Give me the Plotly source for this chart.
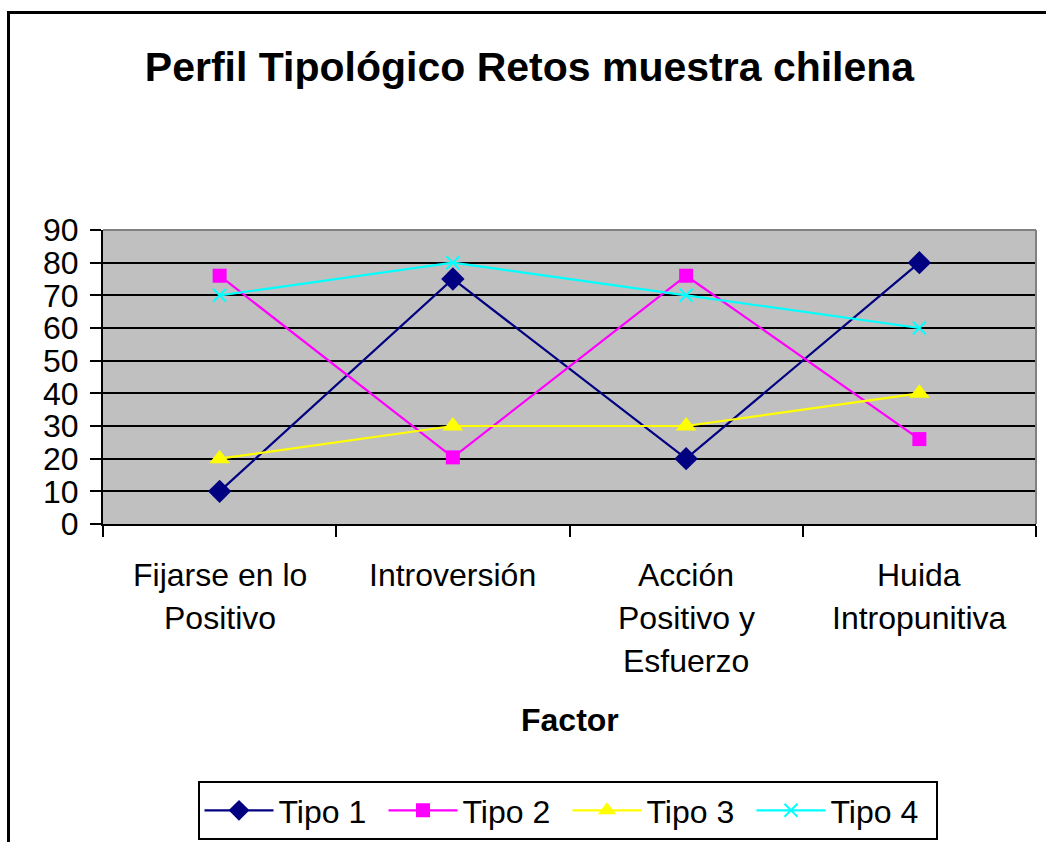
import plotly.graph_objects as go

# Category labels (factors) and the lines of text shown under each one
factores = ["Fijarse en lo Positivo", "Introversión", "Acción Positivo y Esfuerzo", "Huida Intropunitiva"]
etiquetas = [
    ["Fijarse en lo", "Positivo"],
    ["Introversión"],
    ["Acción", "Positivo y", "Esfuerzo"],
    ["Huida", "Intropunitiva"],
]

# Series values per profile type
tipo1 = [10, 75, 20, 80]
tipo2 = [76, 20.4, 76, 26]
tipo3 = [20, 30, 30, 40]
tipo4 = [70, 80, 70, 60]

y_ticks = list(range(0, 100, 10))

FONT = "Liberation Sans, Arial, sans-serif"
FS = 32
W, H = 1046, 842
ML, MR, MT, MB = 103, 10, 230, 318
PW = W - ML - MR
PH = H - MT - MB


def px_x(p):
    return (p - ML) / PW


def px_y(p):
    return (H - MB - p) / PH


series = [
    ("Tipo 1", tipo1, "#000080", dict(symbol="diamond", size=18, color="#000080")),
    ("Tipo 2", tipo2, "#FF00FF", dict(symbol="square", size=14, color="#FF00FF")),
    ("Tipo 3", tipo3, "#FFFF00", dict(symbol="triangle-up", size=18, color="#FFFF00")),
    ("Tipo 4", tipo4, "#00FFFF", dict(symbol="x-thin", size=13, color="#00FFFF",
                                       line=dict(color="#00FFFF", width=2))),
]

fig = go.Figure()
for name, vals, col, mk in series:
    fig.add_trace(go.Scatter(
        x=factores, y=vals, name=name, mode="lines+markers",
        line=dict(color=col, width=2.2), marker=mk,
    ))

annotations = []
for cat, lines in zip(factores, etiquetas):
    for i, txt in enumerate(lines):
        annotations.append(dict(
            x=cat, xref="x", y=0, yref="paper", text=txt, showarrow=False,
            yanchor="middle", xanchor="center", yshift=-51 - 43 * i,
            font=dict(family=FONT, size=FS, color="black"),
        ))
annotations.append(dict(
    x=0.5, xref="paper", y=0, yref="paper", text="<b>Factor</b>", showarrow=False,
    yanchor="middle", xanchor="center", yshift=-196,
    font=dict(family=FONT, size=FS, color="black"),
))

shapes = [
    # outer chart frame
    dict(type="rect", xref="paper", yref="paper",
         x0=px_x(8.5), x1=px_x(1060), y0=px_y(860), y1=px_y(12.5),
         line=dict(color="black", width=3), layer="below"),
    # top and right edges of the plot area
    dict(type="line", xref="paper", yref="paper", x0=0, x1=1, y0=1, y1=1,
         line=dict(color="#808080", width=2)),
    dict(type="line", xref="paper", yref="paper", x0=1, x1=1, y0=0, y1=1,
         line=dict(color="#808080", width=2)),
]

fig.update_layout(
    width=W, height=H,
    margin=dict(l=ML, r=MR, t=MT, b=MB, autoexpand=False),
    paper_bgcolor="white",
    plot_bgcolor="#C0C0C0",
    font=dict(family=FONT, size=FS, color="black"),
    title=dict(
        text="<b>Perfil Tipológico Retos muestra chilena</b>",
        x=px_x(529.5), xref="paper", xanchor="center",
        y=1 - 67 / H, yref="container", yanchor="middle",
        font=dict(family=FONT, size=41, color="black"),
    ),
    xaxis=dict(
        type="category", categoryorder="array", categoryarray=factores,
        range=[-0.5, 3.5], tickson="boundaries",
        ticks="outside", ticklen=11, tickwidth=2, tickcolor="black",
        showticklabels=False, showgrid=False, zeroline=False,
        showline=True, linecolor="black", linewidth=2,
    ),
    yaxis=dict(
        range=[0, 90], tickvals=y_ticks, ticktext=[str(v) for v in y_ticks],
        ticks="outside", ticklen=11, tickwidth=2, tickcolor="black",
        ticklabelstandoff=5,
        showgrid=True, gridcolor="black", gridwidth=2, zeroline=False,
        showline=True, linecolor="black", linewidth=2,
        tickfont=dict(family=FONT, size=FS, color="black"),
    ),
    legend=dict(
        orientation="h", x=px_x(567.5), xanchor="center",
        y=px_y(781), yanchor="top",
        bordercolor="black", borderwidth=2, bgcolor="white",
        font=dict(family=FONT, size=FS, color="black"),
        itemwidth=69, entrywidth=100, entrywidthmode="pixels",
        itemclick=False,
    ),
    annotations=annotations,
    shapes=shapes,
)

fig.write_html("out.html")
